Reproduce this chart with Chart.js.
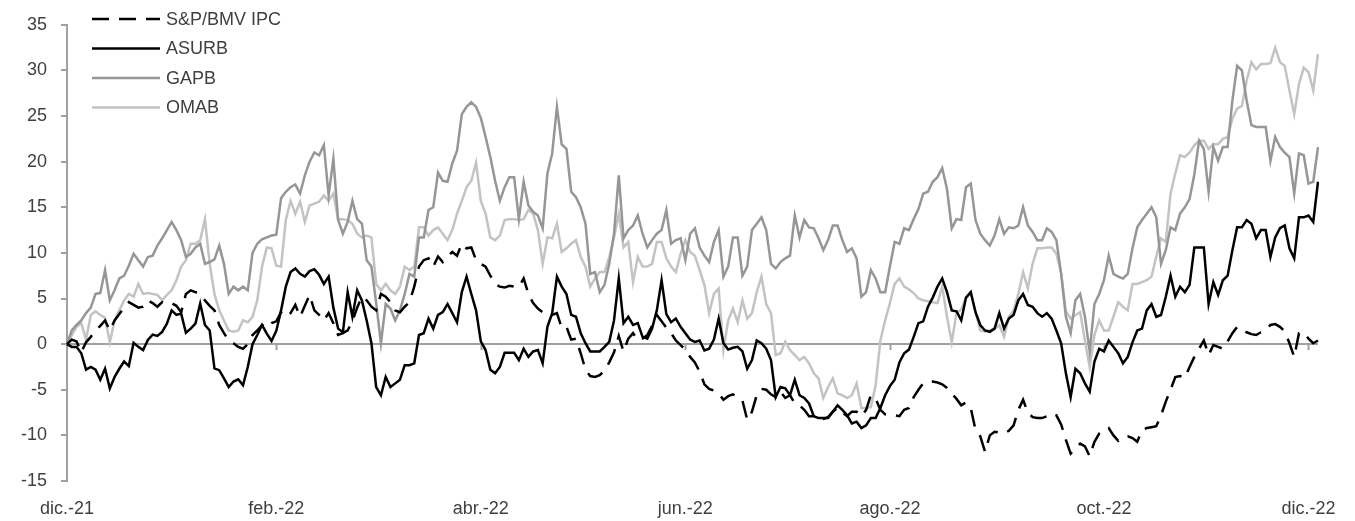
<!DOCTYPE html>
<html><head><meta charset="utf-8">
<script src="https://cdn.jsdelivr.net/npm/chart.js@4.4.1/dist/chart.umd.min.js"></script>
<style>html,body{margin:0;padding:0;background:#fff}canvas{display:block}</style>
</head><body>
<canvas id="c" width="1355" height="521"></canvas>
<script>
const seriesNames = ['S&P/BMV IPC', 'ASURB', 'GAPB', 'OMAB'];
const tickLabels = ['dic.-21', 'feb.-22', 'abr.-22', 'jun.-22', 'ago.-22', 'oct.-22', 'dic.-22'];
const tickIndex = [0, 44, 87, 130, 173, 218, 261];

const ipc = [
0,0.5,0.3,-0.9,0.2,0.8,1.5,2.0,2.6,1.5,
2.6,3.3,4.0,4.6,4.3,4.0,4.1,4.8,4.5,4.1,
4.6,4.4,4.5,4.2,3.5,5.5,5.9,5.7,5.5,4.8,
4.2,3.7,2.1,1.2,0.4,0.1,-0.3,-0.5,0.0,1.0,
1.5,2.1,1.8,2.3,2.5,3.5,3.0,3.4,4.3,3.0,
4.2,5.4,3.7,3.2,2.6,3.4,2.3,1.0,1.2,1.5,
2.5,4.0,5.2,4.8,4.1,3.7,5.5,5.2,4.6,3.7,
3.5,4.1,4.6,6.3,8.5,9.2,9.4,8.5,9.6,9.0,
9.6,10.1,9.7,11.0,10.5,10.6,9.2,8.8,8.5,7.5,
6.6,6.3,6.2,6.4,6.3,6.3,7.2,5.5,4.5,3.9,
3.5,3.3,3.2,3.4,1.8,1.9,0.5,0.6,-1.0,-2.8,
-3.5,-3.6,-3.4,-2.9,-2.0,-0.9,0.9,-0.8,0.6,1.2,
0.4,0.6,1.0,2.0,3.2,2.5,1.8,1.2,0.4,-0.1,
-0.6,-1.4,-2.0,-3.0,-4.4,-4.9,-5.1,-5.4,-6.1,-5.7,
-5.5,-5.8,-6.2,-8.3,-7.4,-5.6,-4.9,-5.0,-5.5,-5.8,
-5.2,-5.9,-5.6,-6.5,-6.7,-7.2,-7.9,-7.9,-8.1,-8.2,
-8.0,-7.4,-7.0,-7.5,-7.9,-7.4,-7.4,-7.9,-7.2,-5.6,
-6.0,-7.2,-7.7,-7.8,-7.8,-7.9,-7.2,-7.0,-5.8,-5.0,
-4.3,-4.2,-4.1,-4.2,-4.4,-4.8,-5.4,-6.0,-6.7,-6.4,
-7.0,-9.4,-10.1,-11.8,-10.0,-9.6,-9.7,-9.8,-9.5,-8.9,
-7.2,-6.1,-7.5,-8.0,-8.1,-8.1,-7.9,-7.6,-7.8,-8.8,
-10.5,-12.0,-11.4,-10.9,-11.2,-12.3,-10.7,-9.8,-9.4,-9.2,
-10.0,-10.6,-10.2,-10.1,-10.3,-10.7,-9.4,-9.2,-9.1,-9.0,
-7.8,-6.3,-5.0,-3.6,-3.5,-3.7,-2.5,-1.4,-0.5,0.4,
-1.2,-0.1,-0.3,-0.5,0.3,1.2,1.9,1.6,1.3,1.1,
1.0,1.3,1.5,2.1,2.2,1.9,1.4,0.1,-1.4,1.2,
1.3,0.6,0.1,0.4
];

const asurb = [
0,-0.3,-0.3,-1.0,-2.8,-2.5,-2.8,-3.9,-2.7,-4.85,
-3.6,-2.7,-1.9,-2.4,0.15,-0.3,-0.65,0.45,1.05,0.9,
1.35,2.25,3.7,3.2,3.35,1.25,1.7,2.25,4.45,2.1,
1.5,-2.65,-2.85,-3.75,-4.7,-4.1,-3.85,-4.5,-2.5,0.0,
1.0,2.1,1.15,0.35,1.45,3.7,6.3,7.9,8.3,7.7,
7.4,8.0,8.2,7.6,6.6,7.4,4.0,1.7,1.3,5.7,
3.0,5.9,4.8,2.6,0.1,-4.7,-5.6,-3.6,-4.7,-4.3,
-3.9,-2.3,-2.3,-2.1,1.0,1.2,2.8,1.7,3.2,3.5,
4.4,3.4,2.4,5.7,7.4,5.5,3.7,0.3,-0.65,-2.8,
-3.2,-2.5,-0.95,-0.95,-0.95,-1.75,-0.5,-1.4,-0.8,-0.65,
-2.1,1.9,3.4,7.4,6.3,5.5,3.2,3.0,1.2,0.1,
-0.8,-0.8,-0.8,-0.3,0.25,2.6,7.2,2.3,3.0,2.1,
2.3,0.8,0.6,1.7,3.7,7.0,3.3,2.4,2.8,1.9,
1.2,0.5,0.25,0.4,-0.7,-0.5,0.5,2.8,0.1,-0.6,
-0.4,-0.3,-0.8,-2.7,-1.75,0.4,0.1,-0.5,-1.75,-5.8,
-4.7,-4.85,-5.6,-3.9,-5.6,-5.9,-6.5,-7.9,-8.1,-8.1,
-8.1,-7.4,-6.7,-7.2,-7.8,-8.7,-8.5,-9.2,-8.9,-8.1,
-8.1,-7.0,-5.6,-4.6,-3.9,-2.0,-1.0,-0.6,0.8,2.3,
2.5,4.1,5.1,6.3,7.2,5.7,3.7,3.6,2.6,5.1,
5.7,3.5,2.1,1.5,1.35,1.7,3.4,1.7,2.8,3.2,
4.8,5.5,4.3,4.1,3.4,3.0,3.4,2.8,1.5,0.1,
-3.2,-5.8,-2.7,-3.2,-4.3,-5.2,-1.9,-0.5,-0.8,0.4,
-0.3,-1.0,-2.1,-1.4,0.2,1.5,1.7,3.7,4.4,3.0,
3.2,5.2,7.5,5.2,6.3,5.7,6.5,10.6,10.6,10.6,
4.4,6.8,5.4,7.0,7.5,10.3,12.8,12.8,13.6,13.2,
11.6,12.5,12.5,9.55,11.7,12.7,13.0,10.5,9.4,13.9,
13.9,14.1,13.4,17.8
];

const gapb = [
0,1.5,2.1,2.6,3.4,4.0,5.5,5.6,8.1,4.8,
5.9,7.2,7.5,8.6,9.9,9.2,8.5,9.55,9.7,10.8,
11.6,12.5,13.4,12.5,11.4,9.55,9.9,10.6,11.0,8.8,
9.0,9.3,10.8,8.8,5.5,6.3,5.9,6.3,5.9,10.0,
11.0,11.5,11.7,11.9,12.0,16.0,16.7,17.2,17.5,16.5,
18.5,20.0,21.0,20.7,21.8,16.3,20.3,13.6,12.1,13.4,
15.7,13.7,13.2,9.2,8.5,4.5,0.1,4.4,3.9,2.6,
3.7,5.5,7.7,7.4,11.7,11.7,14.7,15.0,18.8,17.9,
17.8,19.8,21.2,25.2,26.0,26.5,26.0,24.8,22.7,20.5,
17.9,15.7,17.2,18.3,18.3,13.7,17.8,15.2,14.5,14.1,
12.7,18.7,20.9,26.0,21.9,21.4,16.7,16.1,15.0,13.2,
7.7,7.9,5.7,6.5,8.8,12.1,18.5,11.6,12.5,13.0,
14.1,12.1,10.6,11.4,12.1,12.5,14.7,11.0,11.4,11.6,
9.2,12.1,12.7,10.6,9.7,9.0,11.2,12.5,7.4,8.5,
11.7,11.7,7.5,8.5,12.5,13.2,13.9,12.5,8.8,8.3,
9.0,9.4,9.7,14.1,11.7,13.6,12.8,12.7,11.6,10.3,
11.4,13.0,13.0,11.4,10.1,10.5,9.4,5.2,5.7,8.1,
7.2,5.7,5.7,8.5,11.2,11.0,12.7,12.5,13.7,14.8,
16.5,16.7,17.8,18.3,19.3,17.0,12.7,13.7,13.6,17.2,
17.6,13.6,12.1,11.4,10.8,11.9,13.7,12.1,12.8,12.7,
13.0,15.0,13.0,12.3,11.4,11.4,12.7,12.3,11.4,7.7,
3.0,1.2,4.8,5.5,3.0,-0.8,4.4,5.5,7.0,9.7,
7.7,7.4,7.2,7.7,10.5,12.8,13.6,14.3,15.0,13.9,
8.8,10.3,12.8,12.5,14.3,15.0,15.9,18.6,22.3,21.4,
16.7,21.6,20.1,21.6,21.6,26.7,30.5,30.0,26.7,24.0,
23.8,23.8,23.8,20.1,22.7,21.6,21.0,20.5,16.5,20.9,
20.7,17.6,17.8,21.6
];

const omab = [
0,1.0,1.9,2.3,0.5,3.2,3.6,3.2,2.9,0.2,
2.6,3.7,4.8,5.5,5.2,6.6,5.5,5.6,5.5,5.4,
4.8,5.4,5.9,7.0,8.5,9.2,11.0,11.0,11.4,13.7,
8.8,5.5,3.7,2.6,1.5,1.35,1.5,2.6,2.4,3.0,
4.8,8.5,10.6,10.5,8.6,8.5,13.6,15.7,14.3,15.6,
13.4,15.2,15.4,15.6,16.3,15.7,16.5,13.7,13.7,13.6,
13.2,12.1,11.7,11.9,11.7,6.6,5.9,6.6,5.9,5.5,
6.3,8.5,8.1,8.5,12.8,12.8,11.9,12.5,12.8,12.1,
11.4,12.5,14.3,15.7,17.2,17.9,19.9,15.7,14.3,11.7,
11.4,11.9,13.6,13.7,13.7,13.6,13.7,14.7,14.3,12.5,
8.8,11.7,11.6,13.2,10.1,10.5,11.0,11.4,9.55,8.5,
6.3,7.2,7.9,7.9,9.55,11.7,14.3,10.6,11.2,6.8,
9.55,8.5,8.5,8.8,11.2,11.2,9.4,8.5,7.9,9.9,
11.4,10.1,9.7,8.1,6.5,3.4,5.5,6.1,-0.65,2.6,
3.9,2.4,4.8,2.8,3.4,5.7,7.4,4.4,3.4,-1.2,
-1.0,0.25,-0.65,-1.2,-1.75,-1.4,-2.1,-3.2,-3.75,-5.9,
-4.7,-3.75,-5.4,-5.6,-5.9,-5.6,-4.3,-7.0,-7.0,-6.9,
-4.5,0.4,2.6,4.5,6.6,7.2,6.3,6.0,5.6,5.0,
4.8,4.7,4.6,4.5,6.3,3.0,0.2,3.4,3.8,5.1,
5.7,3.5,1.5,1.4,1.5,1.7,2.1,0.8,3.0,3.7,
5.5,7.9,6.1,8.8,10.5,10.5,10.6,10.6,9.9,7.8,
3.6,2.8,3.2,3.5,0.4,-2.5,1.0,2.6,1.5,1.5,
3.0,4.6,4.1,3.7,6.6,6.6,6.8,7.0,7.4,9.6,
11.6,11.2,16.5,18.7,20.7,20.5,21.0,21.8,22.3,22.3,
21.4,21.9,21.9,22.5,22.7,24.7,25.8,26.1,28.9,30.9,
30.1,30.7,30.7,30.8,32.5,30.9,30.5,27.8,25.2,28.5,
30.3,29.8,27.8,31.8
];

// business-day categories starting 1 Dec 2021
function businessDays(y, m, d, n) {
  const out = [];
  const dt = new Date(Date.UTC(y, m, d));
  while (out.length < n) {
    const w = dt.getUTCDay();
    if (w !== 0 && w !== 6) {
      out.push(dt.getUTCFullYear() + '-' + String(dt.getUTCMonth() + 1).padStart(2, '0') + '-' + String(dt.getUTCDate()).padStart(2, '0'));
    }
    dt.setUTCDate(dt.getUTCDate() + 1);
  }
  return out;
}
const dates = businessDays(2021, 11, 1, ipc.length);

const AXIS = '#a0a0a0';
const TEXT = '#404040';
const FONT = '"Liberation Sans", Arial, sans-serif';
Chart.defaults.font.family = FONT;

const zeroTicks = {
  id: 'zeroTicks',
  beforeDatasetsDraw(chart) {
    const xs = chart.scales.x, ys = chart.scales.y, ctx = chart.ctx;
    const y0 = ys.getPixelForValue(0);
    ctx.save();
    ctx.strokeStyle = AXIS; ctx.lineWidth = 2;
    tickIndex.forEach(i => {
      if (i === 0) return;
      const x = Math.round(xs.getPixelForValue(i)) + 0.5;
      ctx.beginPath(); ctx.moveTo(x, y0); ctx.lineTo(x, y0 + 6); ctx.stroke();
    });
    ctx.restore();
  }
};

const lineLegend = {
  id: 'lineLegend',
  afterDraw(chart) {
    const ctx = chart.ctx;
    ctx.save();
    chart.data.datasets.forEach((ds, k) => {
      const y = 19 + k * 29.5;
      ctx.beginPath();
      ctx.setLineDash(ds.borderDash || []);
      ctx.strokeStyle = ds.borderColor;
      ctx.lineWidth = ds.borderWidth;
      ctx.moveTo(92, y); ctx.lineTo(160, y); ctx.stroke();
      ctx.setLineDash([]);
      ctx.fillStyle = TEXT;
      ctx.font = '18px ' + FONT;
      ctx.textBaseline = 'middle';
      ctx.textAlign = 'left';
      ctx.fillText(ds.label, 166, y + 1);
    });
    ctx.restore();
  }
};

new Chart(document.getElementById('c'), {
  type: 'line',
  data: {
    labels: dates,
    datasets: [
      { label: seriesNames[0], data: ipc, borderColor: '#000000', borderWidth: 2.5, borderDash: [17, 10] },
      { label: seriesNames[1], data: asurb, borderColor: '#000000', borderWidth: 2.5 },
      { label: seriesNames[2], data: gapb, borderColor: '#969696', borderWidth: 2.5 },
      { label: seriesNames[3], data: omab, borderColor: '#c3c3c3', borderWidth: 2.5 }
    ]
  },
  options: {
    responsive: false,
    animation: false,
    elements: { point: { radius: 0 }, line: { tension: 0, fill: false } },
    layout: { padding: { top: 24, right: 37, left: 0, bottom: 0 } },
    plugins: { legend: { display: false }, tooltip: { enabled: false } },
    scales: {
      x: {
        type: 'category',
        offset: false,
        grid: { display: false, drawTicks: false },
        border: { display: false },
        ticks: {
          autoSkip: false, maxRotation: 0, minRotation: 0, padding: 17,
          color: TEXT, font: { size: 18 },
          callback: (v, i) => { const k = tickIndex.indexOf(i); return k >= 0 ? tickLabels[k] : ''; }
        },
        afterFit: s => { s.height = 40; }
      },
      y: {
        min: -15, max: 35,
        ticks: { stepSize: 5, padding: 14, color: TEXT, font: { size: 18 } },
        grid: {
          drawOnChartArea: true,
          color: c => (c.tick && c.tick.value === 0) ? AXIS : 'rgba(0,0,0,0)',
          lineWidth: 2, tickColor: AXIS, tickLength: 6, tickWidth: 2
        },
        border: { display: true, color: AXIS, width: 2 },
        afterFit: s => { s.width = 67; }
      }
    }
  },
  plugins: [zeroTicks, lineLegend]
});
</script>
</body></html>
